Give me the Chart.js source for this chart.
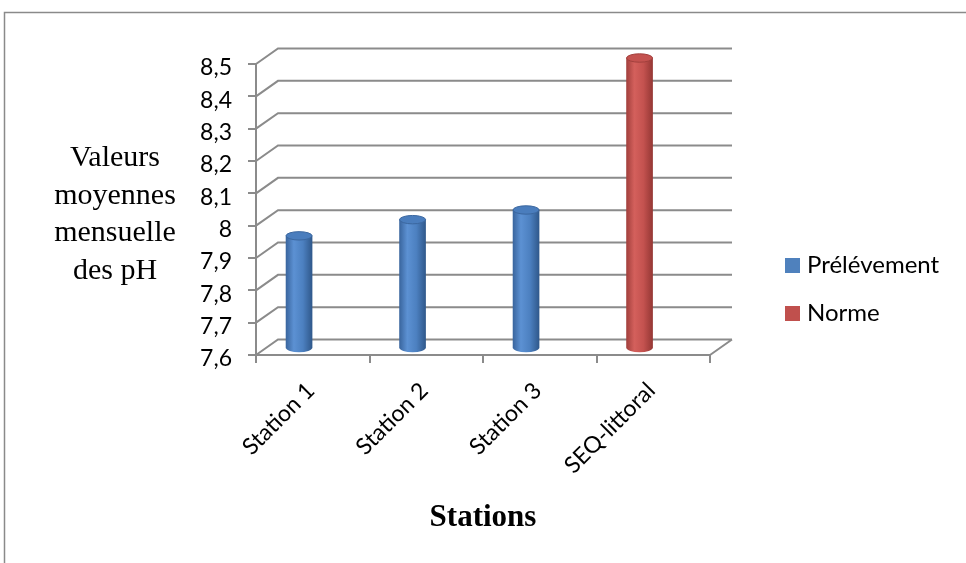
<!DOCTYPE html>
<html lang="fr">
<head>
<meta charset="utf-8">
<title>Valeurs moyennes mensuelles des pH</title>
<script src="https://cdn.jsdelivr.net/npm/chart.js@4/dist/chart.umd.min.js"></script>
<style>
  html, body { margin: 0; padding: 0; background: #ffffff; }
  #wrap { position: relative; width: 966px; height: 563px; }
  canvas { display: block; }
</style>
</head>
<body>
<div id="wrap"><canvas id="chart" width="966" height="563"></canvas></div>
<script>
// Stations and monthly mean pH values
const categories = ['Station 1', 'Station 2', 'Station 3', 'SEQ-littoral'];
const prelevement = [7.95, 8.0, 8.03, null];
const norme = [null, null, null, 8.5];
const yTicks = [7.6, 7.7, 7.8, 7.9, 8.0, 8.1, 8.2, 8.3, 8.4, 8.5];
const yTickLabels = ['7,6', '7,7', '7,8', '7,9', '8', '8,1', '8,2', '8,3', '8,4', '8,5'];
const yTitleLines = ['Valeurs', 'moyennes', 'mensuelle', 'des pH'];
const xTitle = 'Stations';

// 3D look: depth of the back wall and position of the column plane
const DEPTH = { dx: 22, dy: -15.5 };
const COLUMN_SHIFT = { dx: -13.7, dy: -6 };
const GRID = '#8b8b8b';
const LABEL_FONT = 'Lato, "Open Sans", sans-serif';

const palette = {
  blue: { base: '#4f81bd', stops: ['#3a669f', '#5c91d3', '#4c80c0', '#30598c'], cap: '#4a7dbd', rim: '#3b679f' },
  red:  { base: '#c0504d', stops: ['#a3403d', '#d4605c', '#c4524f', '#963835'], cap: '#c4524f', rim: '#a2403d' }
};

function cylinderGradient(ctx, cx, w, pal) {
  if (!isFinite(cx) || !isFinite(w) || w <= 0) return pal.base;
  const g = ctx.createLinearGradient(cx - w / 2, 0, cx + w / 2, 0);
  g.addColorStop(0, pal.stops[0]);
  g.addColorStop(0.3, pal.stops[1]);
  g.addColorStop(0.65, pal.stops[2]);
  g.addColorStop(1, pal.stops[3]);
  return g;
}

function barFill(pal) {
  return (c) => {
    const chart = c.chart;
    const xs = chart.scales && chart.scales.x;
    if (!xs || c.dataIndex === undefined) return pal.base;
    const cx = xs.getPixelForValue(c.dataIndex);
    return cylinderGradient(chart.ctx, cx, 26, pal);
  };
}

// Outer frame of the figure
const framePlugin = {
  id: 'frame',
  beforeDraw(chart) {
    const ctx = chart.ctx;
    ctx.save();
    ctx.strokeStyle = '#8a8a8a';
    ctx.lineWidth = 1.5;
    ctx.beginPath();
    ctx.moveTo(4.5, chart.height + 5);
    ctx.lineTo(4.5, 12.5);
    ctx.lineTo(chart.width + 5, 12.5);
    ctx.stroke();
    ctx.restore();
  }
};

// Back wall grid, side wall diagonals and floor, then columns shifted into depth
const wallsPlugin = {
  id: 'walls',
  beforeDatasetsDraw(chart) {
    const { ctx, chartArea: a, scales: { y } } = chart;
    ctx.save();
    ctx.strokeStyle = GRID;
    ctx.lineWidth = 2;
    ctx.beginPath();
    yTicks.forEach(v => {
      const py = y.getPixelForValue(v);
      ctx.moveTo(a.left, py);
      ctx.lineTo(a.left + DEPTH.dx, py + DEPTH.dy);
      ctx.lineTo(a.right + DEPTH.dx, py + DEPTH.dy);
    });
    const by = y.getPixelForValue(yTicks[0]);
    ctx.moveTo(a.right, by);
    ctx.lineTo(a.right + DEPTH.dx, by + DEPTH.dy);
    ctx.stroke();
    ctx.restore();

    ctx.save();
    ctx.translate(COLUMN_SHIFT.dx, COLUMN_SHIFT.dy);
  },
  afterDatasetsDraw(chart) {
    const ctx = chart.ctx;
    chart.data.datasets.forEach((ds, di) => {
      const meta = chart.getDatasetMeta(di);
      const pal = ds.palette;
      meta.data.forEach((el, i) => {
        if (ds.data[i] === null || ds.data[i] === undefined) return;
        const { x, y, base, width } = el.getProps(['x', 'y', 'base', 'width'], true);
        if (![x, y, base, width].every(isFinite)) return;
        const rx = width / 2, ry = 4.2;
        // rounded bottom
        ctx.beginPath();
        ctx.ellipse(x, base, rx, ry, 0, 0, Math.PI);
        ctx.closePath();
        ctx.fillStyle = cylinderGradient(ctx, x, width, pal);
        ctx.fill();
        // top face
        ctx.beginPath();
        ctx.ellipse(x, y, rx, ry, 0, 0, Math.PI * 2);
        ctx.fillStyle = pal.cap;
        ctx.fill();
        ctx.lineWidth = 1;
        ctx.strokeStyle = pal.rim;
        ctx.stroke();
      });
    });
    ctx.restore();
  }
};

// Vertical axis title (horizontal lines of serif text) and legend
const textPlugin = {
  id: 'texts',
  afterDraw(chart) {
    const ctx = chart.ctx;
    ctx.save();
    ctx.fillStyle = '#000000';
    ctx.font = '30px "Liberation Serif", "DejaVu Serif", serif';
    ctx.textAlign = 'center';
    ctx.textBaseline = 'alphabetic';
    yTitleLines.forEach((line, i) => ctx.fillText(line, 115, 166 + i * 37.5));

    ctx.textAlign = 'left';
    ctx.textBaseline = 'middle';
    ctx.font = '24px ' + LABEL_FONT;
    chart.data.datasets.forEach((ds, i) => {
      const top = 258 + i * 48;
      ctx.fillStyle = ds.palette.base;
      ctx.fillRect(785, top, 15, 15);
      ctx.fillStyle = '#000000';
      ctx.fillText(ds.label, 807, top + 7);
    });
    ctx.restore();
  }
};

new Chart(document.getElementById('chart'), {
  type: 'bar',
  data: {
    labels: categories,
    datasets: [
      { label: 'Prélévement', data: prelevement, palette: palette.blue, base: yTicks[0],
        backgroundColor: barFill(palette.blue), grouped: false, clip: false },
      { label: 'Norme', data: norme, palette: palette.red, base: yTicks[0],
        backgroundColor: barFill(palette.red), grouped: false, clip: false }
    ]
  },
  options: {
    responsive: false,
    animation: false,
    devicePixelRatio: 1,
    layout: { padding: { left: 0, top: 64, right: 256, bottom: 0 } },
    datasets: { bar: { barThickness: 26, borderWidth: 0 } },
    plugins: { legend: { display: false }, tooltip: { enabled: false }, title: { display: false } },
    scales: {
      x: {
        offset: true,
        grid: { offset: true, drawOnChartArea: false, drawTicks: true, tickLength: 8, color: GRID, lineWidth: 2 },
        border: { display: true, color: GRID, width: 2 },
        ticks: {
          autoSkip: false, minRotation: 45, maxRotation: 45, padding: 14, labelOffset: -2,
          color: '#000000', font: { family: LABEL_FONT, size: 23 }
        },
        title: {
          display: true, text: xTitle, color: '#000000',
          font: { family: '"Liberation Serif", "DejaVu Serif", serif', size: 31, weight: 'bold' },
          padding: { top: 0, bottom: 26 }
        },
        afterFit(s) { s.height = 208; }
      },
      y: {
        min: 7.6, max: 8.5,
        afterBuildTicks(s) { s.ticks = yTicks.map(v => ({ value: v })); },
        grid: { drawOnChartArea: false, drawTicks: true, tickLength: 8, color: GRID, lineWidth: 2 },
        border: { display: true, color: GRID, width: 2 },
        ticks: {
          padding: 16, labelOffset: 4, color: '#000000',
          font: { family: LABEL_FONT, size: 23 },
          callback: (v, i) => yTickLabels[i]
        },
        afterFit(s) { s.width = 256; }
      }
    }
  },
  plugins: [framePlugin, wallsPlugin, textPlugin]
});
</script>
</body>
</html>
